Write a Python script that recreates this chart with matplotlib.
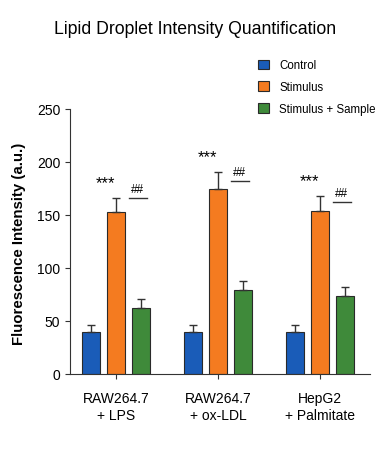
import numpy as np
import matplotlib
matplotlib.use("Agg")
import matplotlib.pyplot as plt

plt.rcParams['font.family'] = ['Liberation Sans', 'DejaVu Sans']

groups = ["RAW264.7\n+ LPS", "RAW264.7\n+ ox-LDL", "HepG2\n+ Palmitate"]
series = ["Control", "Stimulus", "Stimulus + Sample"]
control = [40, 40, 40]
control_err = [6.5, 6, 6]
stimulus = [152.5, 174.5, 154]
stimulus_err = [13.5, 16.5, 14]
sample = [62.5, 79.5, 74]
sample_err = [8.5, 8.5, 8]
stars_y = [181, 205, 182]
hash_line_y = [166, 182, 162.5]

colors = ["#1a5cb8", "#f47b20", "#3f8a3a"]

fig = plt.figure(figsize=(3.9, 4.6), dpi=100)
ax = fig.add_axes([70/390, 1-375/460, 300/390, 265/460])

x = np.arange(len(groups))
w = 0.18
off = 0.245
vals = [control, stimulus, sample]
errs = [control_err, stimulus_err, sample_err]
for i in range(3):
    ax.bar(x + (i-1)*off, vals[i], w, color=colors[i], edgecolor="#2a2a2a",
           linewidth=0.8, label=series[i],
           yerr=[np.zeros(3), errs[i]], capsize=3,
           error_kw=dict(elinewidth=1, capthick=1, ecolor="#333333"))

for i in range(3):
    ax.text(x[i] - 0.1, stars_y[i], "***", ha="center", va="center", fontsize=12)
    ax.plot([x[i] + 0.13, x[i] + 0.30], [hash_line_y[i]]*2, color="#333333", lw=1)
    ax.text(x[i] + 0.215, hash_line_y[i] + 3, "##", ha="center", va="bottom", fontsize=8.5)

ax.set_ylim(0, 250)
ax.set_xlim(-0.45, 2.49)
ax.set_yticks([0, 50, 100, 150, 200, 250])
ax.set_xticks(x)
ax.set_xticklabels(groups, fontsize=10, linespacing=1.25)
ax.tick_params(axis="y", labelsize=10, color="#333333")
ax.tick_params(axis="x", color="#333333", pad=9)
ax.spines["top"].set_visible(False)
ax.spines["right"].set_visible(False)
ax.spines["left"].set_color("#333333")
ax.spines["bottom"].set_color("#333333")
ax.set_ylabel("Fluorescence Intensity (a.u.)", fontsize=10.8, fontweight="bold")
ax.yaxis.set_label_coords(-44/300, 0.496)

fig.text(0.5, 1-30/460, "Lipid Droplet Intensity Quantification", ha="center",
         va="center", fontsize=12.7)
fig.legend(loc="upper left", bbox_to_anchor=(248/390, 1-50/460), frameon=False,
           fontsize=8.3, handlelength=0.9, handleheight=0.9, labelspacing=0.85,
           handletextpad=0.9)

fig.savefig("out.png", dpi=100)
